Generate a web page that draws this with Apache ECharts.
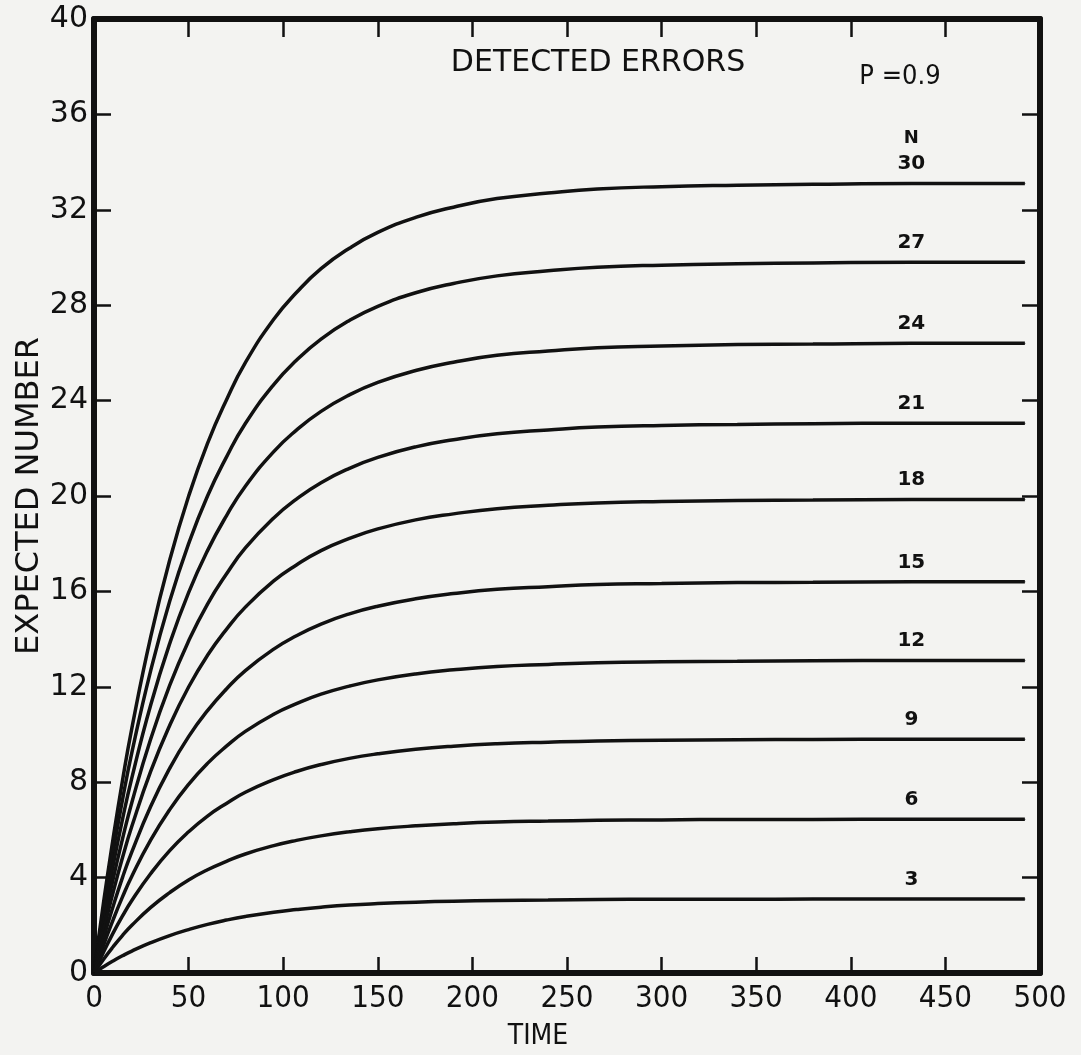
<!DOCTYPE html>
<html>
<head>
<meta charset="utf-8">
<script src="https://cdn.jsdelivr.net/npm/echarts@6/dist/echarts.min.js"></script>
<style>
  html, body { margin: 0; padding: 0; background: #f3f3f1; }
  #chart { width: 1081px; height: 1055px; }
</style>
</head>
<body>
<div id="chart"></div>
<script>
// time samples
const times = [0, 5, 10, 15, 20, 30, 40, 50, 60, 70, 80, 95, 107, 120, 135, 150, 170, 190, 213, 240, 266, 300, 340, 380, 432, 492];

// expected number of detected errors, one list per N (p = 0.9)
const n30 = [0, 2.93, 5.59, 8.04, 10.26, 14.10, 17.31, 19.99, 22.21, 24.03, 25.59, 27.41, 28.53, 29.53, 30.39, 31.05, 31.68, 32.11, 32.47, 32.70, 32.87, 32.97, 33.03, 33.07, 33.1, 33.1];
const n27 = [0, 2.64, 5.04, 7.24, 9.24, 12.69, 15.59, 18.0, 20.0, 21.63, 23.04, 24.67, 25.69, 26.58, 27.36, 27.95, 28.52, 28.91, 29.23, 29.44, 29.59, 29.68, 29.74, 29.77, 29.8, 29.8];
const n24 = [0, 2.34, 4.46, 6.42, 8.18, 11.25, 13.81, 15.95, 17.71, 19.17, 20.41, 21.86, 22.76, 23.55, 24.24, 24.76, 25.26, 25.61, 25.90, 26.08, 26.22, 26.29, 26.35, 26.37, 26.4, 26.4];
const n21 = [0, 2.04, 3.90, 5.60, 7.15, 9.82, 12.06, 13.92, 15.47, 16.73, 17.82, 19.08, 19.87, 20.56, 21.16, 21.62, 22.06, 22.36, 22.61, 22.77, 22.89, 22.96, 23.0, 23.03, 23.05, 23.05];
const n18 = [0, 1.76, 3.35, 4.82, 6.15, 8.46, 10.38, 11.99, 13.32, 14.41, 15.34, 16.44, 17.11, 17.71, 18.22, 18.62, 19.0, 19.25, 19.47, 19.61, 19.71, 19.77, 19.81, 19.83, 19.85, 19.85];
const n15 = [0, 1.45, 2.77, 3.99, 5.08, 6.99, 8.58, 9.91, 11.0, 11.91, 12.68, 13.58, 14.14, 14.63, 15.06, 15.38, 15.69, 15.91, 16.09, 16.2, 16.29, 16.33, 16.37, 16.38, 16.4, 16.4];
const n12 = [0, 1.16, 2.21, 3.18, 4.06, 5.58, 6.85, 7.91, 8.79, 9.51, 10.13, 10.85, 11.29, 11.69, 12.03, 12.29, 12.54, 12.71, 12.85, 12.94, 13.01, 13.05, 13.07, 13.09, 13.1, 13.1];
const n9  = [0, 0.87, 1.66, 2.38, 3.04, 4.17, 5.13, 5.92, 6.58, 7.11, 7.58, 8.11, 8.45, 8.74, 9.0, 9.19, 9.38, 9.51, 9.61, 9.68, 9.73, 9.76, 9.78, 9.79, 9.8, 9.8];
const n6  = [0, 0.57, 1.09, 1.57, 2.0, 2.75, 3.37, 3.9, 4.33, 4.68, 4.99, 5.34, 5.56, 5.75, 5.92, 6.05, 6.17, 6.26, 6.33, 6.37, 6.4, 6.42, 6.44, 6.44, 6.45, 6.45];
const n3  = [0, 0.26, 0.5, 0.72, 0.92, 1.27, 1.57, 1.82, 2.04, 2.22, 2.37, 2.55, 2.66, 2.76, 2.85, 2.91, 2.97, 3.01, 3.04, 3.06, 3.08, 3.09, 3.09, 3.1, 3.1, 3.1];

const curveNames = ['30', '27', '24', '21', '18', '15', '12', '9', '6', '3'];
const curveValues = [n30, n27, n24, n21, n18, n15, n12, n9, n6, n3];
const labelTime = 432; // the N labels sit over this sample

const FONT = '"DejaVu Sans", sans-serif';
const FONT_NARROW = '"DejaVu Sans Condensed", "DejaVu Sans", sans-serif';
const INK = '#111';

const chart = echarts.init(document.getElementById('chart'), null, { renderer: 'canvas' });

function makeSeries(name, values, idx) {
  const data = times.map((t, i) => {
    if (t !== labelTime) return [t, values[i]];
    return {
      value: [t, values[i]],
      label: {
        show: true,
        position: 'top',
        distance: 8,
        color: INK,
        fontFamily: FONT,
        fontWeight: 'bold',
        fontSize: 20,
        lineHeight: 22,
        formatter: idx === 0 ? '{n|N}\n' + name : name,
        rich: {
          n: { fontFamily: FONT, fontWeight: 'bold', fontSize: 18, lineHeight: 30, color: INK },
        },
      },
    };
  });
  return {
    name: name,
    type: 'line',
    smooth: 0.5,
    symbol: 'circle',
    symbolSize: 1,
    showSymbol: true,
    showAllSymbol: true,
    itemStyle: { color: INK },
    lineStyle: { color: INK, width: 3.5 },
    emphasis: { disabled: true },
    z: 3,
    data: data,
  };
}

const hiddenAxis = {
  axisLabel: { show: false },
  splitLine: { show: false },
};

const option = {
  backgroundColor: '#f3f3f1',
  animation: false,
  grid: { left: 94, right: 41, top: 19, bottom: 82, outerBoundsMode: 'none' },
  xAxis: [
    {
      type: 'value',
      position: 'bottom',
      min: 0,
      max: 500,
      interval: 50,
      name: 'TIME',
      nameLocation: 'middle',
      nameGap: 50,
      nameMoveOverlap: false,
      nameTextStyle: { color: INK, fontFamily: FONT_NARROW, fontSize: 28, padding: [0, 58, 0, 0] },
      axisLine: { show: true, onZero: false, lineStyle: { color: INK, width: 6 } },
      axisTick: { show: true, inside: true, length: 16, lineStyle: { color: INK, width: 2.5 } },
      axisLabel: { color: INK, fontFamily: FONT_NARROW, fontSize: 31, margin: 10 },
      splitLine: { show: false },
    },
    Object.assign({
      type: 'value',
      position: 'top',
      min: 0,
      max: 500,
      interval: 50,
      axisLine: { show: true, onZero: false, lineStyle: { color: INK, width: 6 } },
      axisTick: { show: true, inside: true, length: 18, lineStyle: { color: INK, width: 2.5 } },
    }, hiddenAxis),
  ],
  yAxis: [
    {
      type: 'value',
      position: 'left',
      min: 0,
      max: 40,
      interval: 4,
      name: 'EXPECTED NUMBER',
      nameLocation: 'middle',
      nameGap: 48,
      nameMoveOverlap: false,
      nameTextStyle: { color: INK, fontFamily: FONT, fontSize: 32 },
      axisLine: { show: true, onZero: false, lineStyle: { color: INK, width: 6 } },
      axisTick: { show: true, inside: true, length: 17, lineStyle: { color: INK, width: 2.5 } },
      axisLabel: { color: INK, fontFamily: FONT, fontSize: 30, margin: 6 },
      splitLine: { show: false },
    },
    Object.assign({
      type: 'value',
      position: 'right',
      min: 0,
      max: 40,
      interval: 4,
      axisLine: { show: true, onZero: false, lineStyle: { color: INK, width: 6 } },
      axisTick: { show: true, inside: true, length: 18, lineStyle: { color: INK, width: 2.5 } },
    }, hiddenAxis),
  ],
  graphic: [
    {
      type: 'text',
      x: 598,
      y: 63,
      style: {
        text: 'DETECTED ERRORS',
        fill: INK,
        font: '30px ' + FONT,
        align: 'center',
        verticalAlign: 'middle',
      },
    },
    {
      type: 'text',
      x: 900,
      y: 77,
      style: {
        text: 'P =0.9',
        fill: INK,
        font: '27px ' + FONT_NARROW,
        align: 'center',
        verticalAlign: 'middle',
      },
    },
  ],
  series: curveNames.map((n, i) => makeSeries(n, curveValues[i], i)),
};

chart.setOption(option);
</script>
</body>
</html>
